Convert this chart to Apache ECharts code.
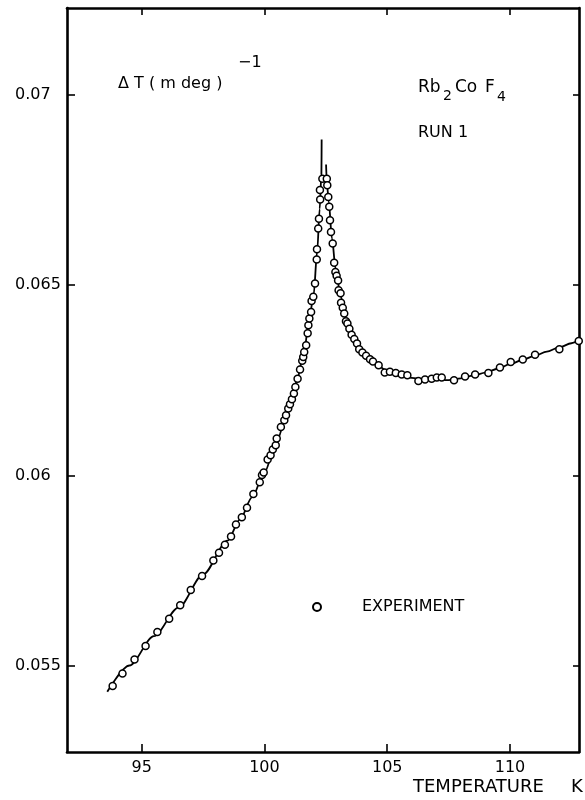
<!DOCTYPE html>
<html>
<head>
<meta charset="utf-8">
<script src="https://cdn.jsdelivr.net/npm/echarts@6/dist/echarts.min.js"></script>
<style>
  html, body { margin: 0; padding: 0; background: #fff; }
  #chart { width: 585px; height: 800px; }
</style>
</head>
<body>
<div id="chart"></div>
<script>
// measured points (temperature K, inverse ΔT)
const expT = [
  93.82, 94.22, 94.71, 95.16, 95.64, 96.12, 96.57, 97.00, 97.46, 97.92,
  98.15, 98.39, 98.64, 98.84, 99.08, 99.29, 99.55, 99.81, 99.90, 99.97,
  100.13, 100.25, 100.34, 100.46, 100.50, 100.67, 100.81, 100.88, 100.97, 101.04,
  101.12, 101.20, 101.26, 101.35, 101.45, 101.54, 101.58, 101.62, 101.70, 101.76,
  101.79, 101.83, 101.90, 101.92, 101.99, 102.06, 102.13, 102.14, 102.19, 102.22,
  102.27, 102.26, 102.36,
  102.54, 102.56, 102.60, 102.64, 102.67, 102.71, 102.78, 102.84, 102.89, 102.94,
  103.00, 103.02, 103.10, 103.12, 103.19, 103.25, 103.32, 103.38, 103.46, 103.55,
  103.66, 103.77, 103.86, 103.99, 104.14, 104.30, 104.42, 104.65, 104.90, 105.11,
  105.35, 105.59, 105.82, 106.27, 106.54, 106.81, 107.02, 107.22, 107.72, 108.17,
  108.58, 109.12, 109.59, 110.03, 110.52, 111.02, 112.01, 112.80
];
const expV = [
  0.05447, 0.05480, 0.05517, 0.05552, 0.05589, 0.05624, 0.05659, 0.05699, 0.05736, 0.05777,
  0.05797, 0.05818, 0.05840, 0.05871, 0.05890, 0.05915, 0.05951, 0.05982, 0.06001, 0.06008,
  0.06042, 0.06053, 0.06068, 0.06079, 0.06097, 0.06127, 0.06145, 0.06158, 0.06176, 0.06187,
  0.06200, 0.06215, 0.06232, 0.06254, 0.06278, 0.06301, 0.06311, 0.06324, 0.06342, 0.06373,
  0.06394, 0.06412, 0.06429, 0.06458, 0.06469, 0.06504, 0.06567, 0.06594, 0.06648, 0.06674,
  0.06724, 0.06749, 0.06779,
  0.06779, 0.06762, 0.06731, 0.06705, 0.06670, 0.06639, 0.06609, 0.06558, 0.06534, 0.06524,
  0.06512, 0.06486, 0.06478, 0.06453, 0.06440, 0.06425, 0.06405, 0.06399, 0.06385, 0.06369,
  0.06358, 0.06346, 0.06331, 0.06323, 0.06314, 0.06305, 0.06299, 0.06289, 0.06270, 0.06272,
  0.06269, 0.06265, 0.06263, 0.06248, 0.06252, 0.06254, 0.06257, 0.06257, 0.06250, 0.06260,
  0.06265, 0.06269, 0.06283, 0.06298, 0.06304, 0.06317, 0.06331, 0.06353
];

// fitted curve, below Tc
const fitLowT = [93.6, 94.5, 95.5, 96.5, 97.5, 98.5, 99.0, 99.5, 100.0, 100.5,
  101.0, 101.3, 101.6, 101.8, 102.0, 102.15, 102.25, 102.32, 102.33];
const fitLowV = [0.05432, 0.05501, 0.05578, 0.05653, 0.05740, 0.05829, 0.05884, 0.05943, 0.06008, 0.06090,
  0.06182, 0.06245, 0.06318, 0.06398, 0.06472, 0.06590, 0.06700, 0.06790, 0.06882];
// fitted curve, above Tc
const fitHighT = [102.51, 102.54, 102.62, 102.75, 102.9, 103.1, 103.3, 103.6, 104.0, 104.5,
  105.0, 105.5, 106.0, 106.5, 107.0, 107.5, 108.0, 108.5, 109.0, 109.5,
  110.0, 110.5, 111.0, 111.5, 112.0, 112.5, 112.81];
const fitHighV = [0.06816, 0.06770, 0.06718, 0.06622, 0.06542, 0.06472, 0.06412, 0.06363, 0.06320, 0.06293,
  0.06275, 0.06263, 0.06256, 0.06252, 0.06250, 0.06250, 0.06255, 0.06262, 0.06270, 0.06280,
  0.06292, 0.06303, 0.06314, 0.06325, 0.06336, 0.06347, 0.06356];

const xTicks = [95, 100, 105, 110];
const yTicks = [0.055, 0.06, 0.065, 0.07];

const FONT = '"DejaVu Sans", "Liberation Sans", sans-serif';
const INK = '#000';

const zip = (a, b) => a.map((v, i) => [v, b[i]]);

const chart = echarts.init(document.getElementById('chart'), null, { renderer: 'canvas' });

const axisBase = {
  type: 'value',
  axisLine: { show: true, onZero: false, lineStyle: { color: INK, width: 2.6 } },
  axisTick: { show: true, inside: true, length: 8, lineStyle: { color: INK, width: 1.6 } },
  splitLine: { show: false }
};

chart.setOption({
  animation: false,
  backgroundColor: '#fff',
  grid: { left: 67, right: 6, top: 8, bottom: 48 },
  xAxis: [
    Object.assign({}, axisBase, {
      position: 'bottom', min: 91.96, max: 112.81,
      axisTick: Object.assign({}, axisBase.axisTick, { customValues: xTicks }),
      axisLabel: { customValues: xTicks, margin: 8, color: INK, fontSize: 16, fontFamily: FONT }
    }),
    Object.assign({}, axisBase, {
      position: 'top', min: 91.96, max: 112.81,
      axisTick: Object.assign({}, axisBase.axisTick, { customValues: xTicks, length: 7 }),
      axisLabel: { show: false }
    })
  ],
  yAxis: [
    Object.assign({}, axisBase, {
      position: 'left', min: 0.05274, max: 0.07227,
      axisTick: Object.assign({}, axisBase.axisTick, { customValues: yTicks }),
      axisLabel: { customValues: yTicks, margin: 52, align: 'left', color: INK, fontSize: 16, fontFamily: FONT }
    }),
    Object.assign({}, axisBase, {
      position: 'right', min: 0.05274, max: 0.07227,
      axisTick: Object.assign({}, axisBase.axisTick, { customValues: yTicks, length: 6 }),
      axisLabel: { show: false }
    })
  ],
  legend: {
    data: ['EXPERIMENT'],
    left: 307, top: 594,
    itemWidth: 8, itemHeight: 8,
    textStyle: { color: INK, fontSize: 16, fontFamily: FONT, padding: [0, 0, 0, 36] }
  },
  series: [
    {
      name: 'fit low', type: 'line', data: zip(fitLowT, fitLowV),
      showSymbol: false, smooth: 0.3, smoothMonotone: 'x',
      lineStyle: { color: INK, width: 1.8 }, z: 2
    },
    {
      name: 'fit high', type: 'line', data: zip(fitHighT, fitHighV),
      showSymbol: false, smooth: 0.3, smoothMonotone: 'x',
      lineStyle: { color: INK, width: 1.8 }, z: 2
    },
    {
      name: 'EXPERIMENT', type: 'scatter', data: zip(expT, expV),
      symbol: 'circle', symbolSize: 7,
      itemStyle: { color: '#fff', borderColor: INK, borderWidth: 1.5, opacity: 1 }, z: 3
    }
  ],
  graphic: [
    { type: 'text', x: 118, y: 84, style: { text: 'Δ T ( m deg )', font: '16px ' + FONT, fill: INK, verticalAlign: 'middle' } },
    { type: 'text', x: 238, y: 63, style: { text: '−1', font: '16px ' + FONT, fill: INK, verticalAlign: 'middle' } },
    { type: 'text', x: 418, y: 88, style: { text: 'Rb', font: '17px ' + FONT, fill: INK, verticalAlign: 'middle' } },
    { type: 'text', x: 443, y: 96, style: { text: '2', font: '14px ' + FONT, fill: INK, verticalAlign: 'middle' } },
    { type: 'text', x: 455, y: 88, style: { text: 'Co', font: '17px ' + FONT, fill: INK, verticalAlign: 'middle' } },
    { type: 'text', x: 485, y: 88, style: { text: 'F', font: '17px ' + FONT, fill: INK, verticalAlign: 'middle' } },
    { type: 'text', x: 497, y: 97, style: { text: '4', font: '14px ' + FONT, fill: INK, verticalAlign: 'middle' } },
    { type: 'text', x: 418, y: 133, style: { text: 'RUN 1', font: '16px ' + FONT, fill: INK, verticalAlign: 'middle' } },
    { type: 'text', x: 413, y: 787, style: { text: 'TEMPERATURE', font: '18px ' + FONT, fill: INK, verticalAlign: 'middle' } },
    { type: 'text', x: 571, y: 787, style: { text: 'K', font: '18px ' + FONT, fill: INK, verticalAlign: 'middle' } }
  ]
});
</script>
</body>
</html>
